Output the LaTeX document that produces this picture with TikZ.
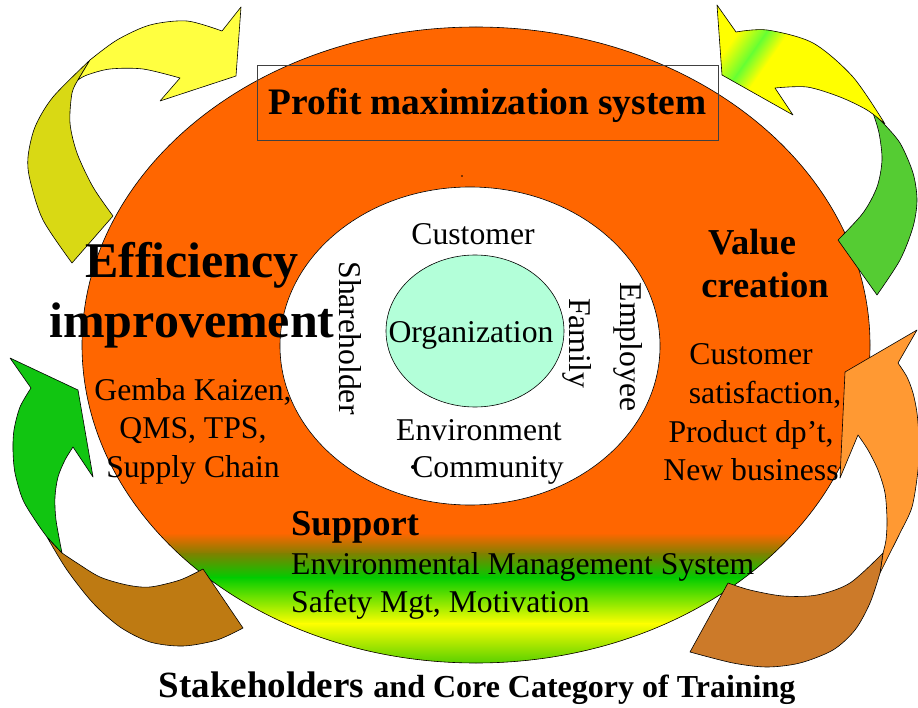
\documentclass[tikz,border=0pt]{standalone}
\usepackage{fontspec}
\setmainfont{Liberation Serif}
\usepackage{xcolor}
\usetikzlibrary{shapes.geometric}
\definecolor{ringorange}{RGB}{255, 102, 0}
\definecolor{orgmint}{RGB}{179, 255, 217}
\definecolor{lemonlight}{RGB}{255, 255, 64}
\definecolor{lemondark}{RGB}{217, 217, 20}
\definecolor{lemonbright}{RGB}{255, 255, 0}
\definecolor{headgreen}{RGB}{102, 255, 51}
\definecolor{leafgreen}{RGB}{85, 204, 51}
\definecolor{grassgreen}{RGB}{17, 197, 17}
\definecolor{barkbrown}{RGB}{190, 122, 18}
\definecolor{peachorange}{RGB}{255, 153, 51}
\definecolor{rustbrown}{RGB}{204, 122, 41}
\definecolor{supportolive}{RGB}{128, 128, 0}
\definecolor{supportgreen}{RGB}{0, 204, 0}
\definecolor{supportyellow}{RGB}{255, 255, 0}
\definecolor{supportbottom}{RGB}{60, 200, 0}

\begin{document}
\begin{tikzpicture}[
        x=1pt, y=-1pt,
        arrowpart/.style={draw=black, line width=0.6pt, line join=round},
        plain/.style={font=\fontsize{31.7}{38}\selectfont, inner sep=0pt, anchor=base},
        plainleft/.style={plain, anchor=base west},
        headline/.style={font=\bfseries\fontsize{36.5}{44}\selectfont, inner sep=0pt, anchor=base},
        bigline/.style={font=\bfseries\fontsize{50}{58}\selectfont, inner sep=0pt, anchor=base},
        sideways/.style={font=\fontsize{31.7}{38}\selectfont, inner sep=0pt, rotate=-90}
    ]
    \useasboundingbox (0,0) rectangle (918,708);

    % Outer ring with the support gradient at the bottom
    \begin{scope}
        \clip (476,345) ellipse [x radius=394, y radius=318];
        \fill[ringorange] (70,20) rectangle (880,670);
        \shade[top color=ringorange, bottom color=supportolive] (70,533) rectangle (880,554);
        \shade[top color=supportolive, bottom color=supportgreen] (70,553) rectangle (880,578);
        \shade[top color=supportgreen, bottom color=supportyellow] (70,577) rectangle (880,624);
        \shade[top color=supportyellow, bottom color=supportbottom] (70,623) rectangle (880,670);
    \end{scope}
    \draw[line width=0.6pt] (476,345) ellipse [x radius=394, y radius=318];

    % Stakeholder ring and organization
    \draw[fill=white, line width=0.6pt] (470,346) ellipse [x radius=190, y radius=159];
    \draw[fill=orgmint, line width=0.6pt] (475,331) ellipse [x radius=89, y radius=76];
    \node[plain] (org) at (471,343) {Organization};
    \fill (462,176) circle (0.8);

    % Profit box
    \node[draw=black!75, line width=0.8pt, minimum width=461pt, minimum height=75pt, inner sep=0pt, text height=30pt, text depth=5pt, font=\bfseries\fontsize{37.4}{44}\selectfont] (profit) at (487.5,102.5) {Profit maximization system};

    % Curved arrow - top left
    \draw[arrowpart, fill=lemondark] plot[smooth] coordinates {(72,263) (43,220) (30,180) (28,157) (35,127) (53,97) (90,60)}
        -- plot[smooth] coordinates {(78,80) (72,93) (70,123) (77,153) (93,187) (113,216)} -- cycle;
    \draw[arrowpart, fill=lemonlight] plot[smooth] coordinates {(90,60) (117,40) (150,25) (187,21) (222,31)}
        -- (241,7) -- (236,76) -- (160,101)
        -- plot[smooth] coordinates {(180,78) (143,69) (110,69) (87,75) (78,80)} -- cycle;

    % Curved arrow - top right
    \draw[arrowpart, fill=leafgreen] plot[smooth] coordinates {(883,123) (900,143) (913,173) (917,200) (913,227) (900,260) (877,295)}
        -- plot[smooth] coordinates {(838,240) (863,213) (877,187) (882,160) (879,133) (873,113)} -- cycle;
    \begin{scope}
        \clip plot[smooth] coordinates {(736,32) (767,30) (813,43) (853,77) (885,124)}
            -- plot[smooth] coordinates {(885,124) (867,110) (840,97) (807,87) (775,88)}
            -- (793,115) -- (722,75) -- (717,5) -- cycle;
        \fill[lemonbright] (700,0) rectangle (900,130);
        \begin{scope}[transform canvas={shift={(753,52)}, rotate=-35}]
            \shade[left color=lemonbright, right color=headgreen] (-24,-80) rectangle (0,80);
            \shade[left color=headgreen, right color=lemonbright] (-0.5,-80) rectangle (18,80);
        \end{scope}
    \end{scope}
    \draw[arrowpart] plot[smooth] coordinates {(736,32) (767,30) (813,43) (853,77) (885,124)}
        -- plot[smooth] coordinates {(885,124) (867,110) (840,97) (807,87) (775,88)}
        -- (793,115) -- (722,75) -- (717,5) -- cycle;

    % Curved arrow - bottom left
    \draw[arrowpart, fill=barkbrown] plot[smooth] coordinates {(47,537) (67,570) (93,603) (120,627) (150,642) (183,646) (217,640) (243,628)}
        -- plot[smooth] coordinates {(203,569) (180,580) (150,587) (127,585) (100,577) (77,563) (62,553)} -- cycle;
    \draw[arrowpart, fill=grassgreen] (31,388) -- (10,358) -- (78,390) -- (93,477)
        -- plot[smooth] coordinates {(73,447) (65,460) (58,477) (55,497) (56,520) (62,553)}
        -- plot[smooth] coordinates {(47,537) (37,523) (23,500) (15,473) (13,450) (14,430) (20,407) (31,388)} -- cycle;

    % Curved arrow - bottom right
    \draw[arrowpart, fill=peachorange] (898,363) -- (917,330) -- (845,372) -- (840,478)
        -- plot[smooth] coordinates {(858,435) (868,450) (878,470) (885,493) (887,520) (886,540) (883,553)}
        -- plot[smooth] coordinates {(880,573) (890,553) (900,533) (912,507) (918,470) (919,440) (917,413) (913,393) (907,377) (898,363)} -- cycle;
    \draw[arrowpart, fill=rustbrown] plot[smooth] coordinates {(728,583) (750,590) (783,596) (817,595) (850,583) (883,553)}
        -- plot[smooth] coordinates {(880,573) (870,603) (855,630) (833,650) (800,663) (767,667) (733,663) (690,652)} -- cycle;

    % Efficiency improvement
    \node[bigline] (efficiency) at (192,278) {Efficiency};
    \node[bigline] (improvement) at (192,338) {improvement};
    \node[plain] (gemba) at (193,400) {Gemba Kaizen,};
    \node[plain] (qms) at (193,438) {QMS, TPS,};
    \node[plain] (supply) at (193,477) {Supply Chain};

    % Value creation
    \node[headline] (value) at (752,255) {Value};
    \node[headline] (creation) at (765,298) {creation};
    \node[plain] (custsat) at (751,365) {Customer};
    \node[plain] (satisfaction) at (765,403) {satisfaction,};
    \node[plain] (product) at (751,442) {Product dp’t,};
    \node[plain] (newbiz) at (751,480) {New business};

    % Support
    \node[headline, anchor=base west] (support) at (291,535) {Support};
    \node[plainleft] (ems) at (291,574) {Environmental Management System};
    \node[plainleft] (safety) at (291,612) {Safety Mgt, Motivation};

    % Stakeholders
    \node[plain] (customer) at (473,245) {Customer};
    \node[sideways] (shareholder) at (350,338) {Shareholder};
    \node[sideways] (family) at (577,343) {Family};
    \node[sideways] (employee) at (628,347) {Employee};
    \node[plain] (environment) at (479,440) {Environment};
    \node[plain] (community) at (488,477) {Community};
    \fill (413,467) circle (2);

    % Caption
    \node[anchor=base, inner sep=0pt, font=\bfseries] (caption) at (477,697) {\fontsize{37}{44}\selectfont Stakeholders \fontsize{32}{38}\selectfont and Core Category of Training};

\end{tikzpicture}
\end{document}
